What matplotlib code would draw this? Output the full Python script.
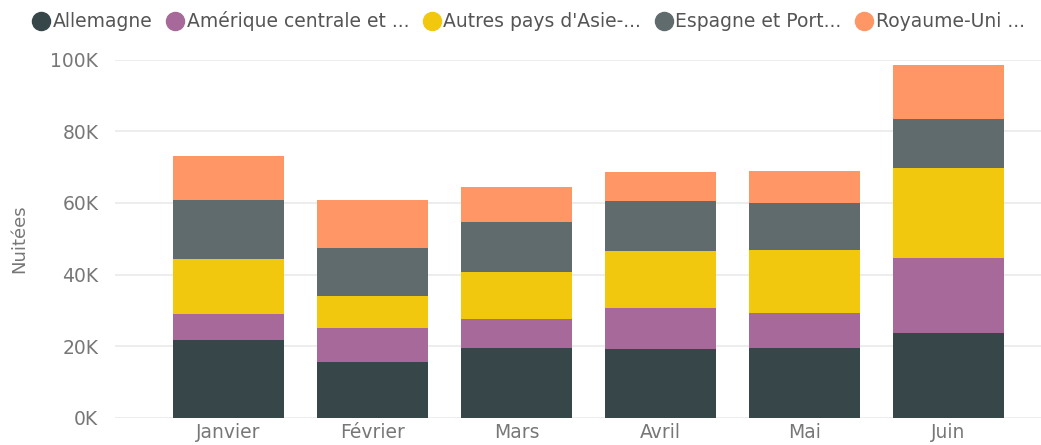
import matplotlib
matplotlib.use('Agg')
import matplotlib.pyplot as plt
from matplotlib.lines import Line2D
import numpy as np

months = ['Janvier', 'Février', 'Mars', 'Avril', 'Mai', 'Juin']
series_names = ['Allemagne', 'Amérique centrale et ...', "Autres pays d'Asie-...",
                'Espagne et Port...', 'Royaume-Uni ...']
allemagne = [21800, 15500, 19500, 19200, 19500, 23600]
amerique = [7100, 9500, 8100, 11300, 9800, 21000]
asie = [15400, 9100, 13100, 16200, 17600, 25200]
espagne = [16500, 13200, 14000, 13900, 13200, 13600]
royaume_uni = [12400, 13500, 9700, 8200, 8800, 15300]
colors = ['#374649', '#A66999', '#F2C80F', '#5F6B6D', '#FE9666']

plt.rcParams['font.family'] = ['DejaVu Sans']
text_col = '#777777'

fig = plt.figure(figsize=(10.41, 4.45), dpi=100)
ax = fig.add_axes([115 / 1041, 1 - 417.5 / 445, 1 - 115 / 1041, (417.5 - 60) / 445])

x = np.arange(len(months))
bottom = np.zeros(len(months))
for vals, col in zip([allemagne, amerique, asie, espagne, royaume_uni], colors):
    ax.bar(x, vals, width=0.773, bottom=bottom, color=col, zorder=3)
    bottom += np.array(vals)

ax.set_xlim(-0.7875, 5.643)
ax.set_ylim(0, 100000)
ax.set_yticks(np.arange(0, 100001, 20000))
ax.set_yticklabels(['{}K'.format(int(v / 1000)) for v in np.arange(0, 100001, 20000)])
ax.set_xticks(x)
ax.set_xticklabels(months)
ax.grid(axis='y', color='#eaeaea', linewidth=1.2, zorder=0)
for s in ax.spines.values():
    s.set_visible(False)
ax.tick_params(axis='both', length=0, colors=text_col, labelsize=13.5)
ax.tick_params(axis='y', pad=12)
ax.tick_params(axis='x', pad=4)
ax.set_ylabel('Nuitées', color=text_col, fontsize=13)
ax.yaxis.set_label_coords(-(115 - 28) / 926, 0.5)

handles = [Line2D([], [], marker='o', linestyle='', markersize=13, color=c) for c in colors]
fig.legend(handles, series_names, loc='upper left', bbox_to_anchor=(0.02, 1.0), ncol=5,
           frameon=False, handletextpad=0.1, columnspacing=0.72, handlelength=1.0,
           fontsize=13.5, labelcolor='#555555', borderaxespad=0.2)

fig.savefig('out.png', dpi=100)
